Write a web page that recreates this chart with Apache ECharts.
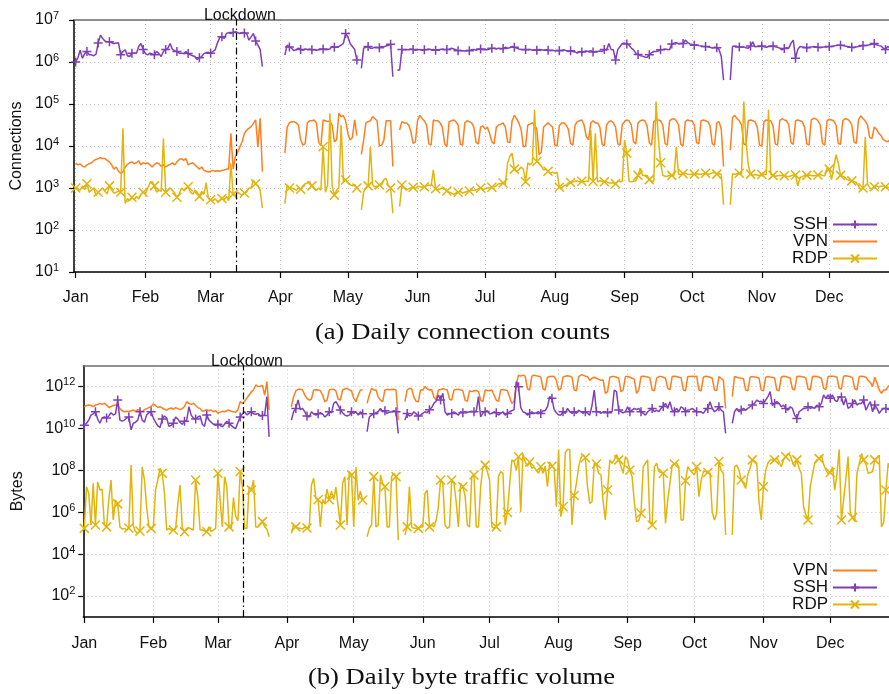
<!DOCTYPE html>
<html>
<head>
<meta charset="utf-8">
<script src="https://cdn.jsdelivr.net/npm/echarts@6/dist/echarts.min.js"></script>
<style>
  html, body { margin: 0; padding: 0; background: #fff; }
  #chart { width: 889px; height: 694px; }
</style>
</head>
<body>
<div id="chart"></div>
<script>
// Calendar of 2020 (leap year): day index 0 = 1 Jan.
const monthNames = ['Jan', 'Feb', 'Mar', 'Apr', 'May', 'Jun', 'Jul', 'Aug', 'Sep', 'Oct', 'Nov', 'Dec'];
const monthStarts = [0, 31, 60, 91, 121, 152, 182, 213, 244, 274, 305, 335];
const lockdownDay = 71.25;

// Tick positions (log10) of the two vertical axes.
const connTicks = [1, 2, 3, 4, 5, 6, 7];
const byteTicks = [2, 4, 6, 8, 10, 12];

// ---- (a) daily connection counts, log10 values, one inner array per month ----
const sshConnLog = [
  [6.0,6.1,6.28,6.09,6.2,6.25,6.17,6.17,6.15,6.18,6.45,6.64,6.56,6.5,6.48,6.48,6.46,6.44,6.45,6.46,6.17,6.25,6.29,6.15,6.13,6.21,6.21,6.21,6.37,6.44,6.3],
  [6.2,6.17,6.21,6.19,6.17,6.25,6.2,6.13,6.25,6.3,6.33,6.44,6.3,6.27,6.25,6.21,6.21,6.2,6.25,6.2,6.17,6.15,6.13,6.06,6.1,6.13,6.2,6.22,6.23],
  [6.21,6.25,6.29,6.45,6.58,6.6,6.56,6.68,6.7,6.68,6.7,6.72,6.7,6.68,6.7,6.69,6.68,6.52,6.6,6.68,6.5,6.4,6.3,5.89,null,null,null,null,null,null,null],
  [null,null,6.17,6.4,6.36,6.33,6.27,6.29,6.33,6.3,6.28,6.31,6.3,6.31,6.29,6.3,6.28,6.29,6.3,6.31,6.29,6.3,6.31,6.37,6.35,6.36,6.37,6.4,6.44,6.68],
  [6.6,6.44,6.37,6.3,6.05,null,5.85,6.33,6.35,6.37,6.33,6.33,6.35,6.35,6.34,6.37,6.36,6.38,6.4,6.42,5.65,null,5.81,5.81,6.3,6.29,6.3,6.29,6.31,6.3,6.28],
  [6.29,6.3,6.28,6.29,6.3,6.31,6.29,6.3,6.28,6.29,6.3,6.31,6.29,6.3,6.3,6.33,6.31,6.29,6.27,6.28,6.27,6.26,6.28,6.27,6.29,6.3,6.28,6.3,6.31,6.29],
  [6.3,6.29,6.31,6.33,6.32,6.31,6.33,6.31,6.32,6.35,6.33,6.34,6.37,6.35,6.33,6.31,6.3,6.29,6.3,6.29,6.3,6.28,6.29,6.28,6.3,6.29,6.28,6.29,6.28,6.27,6.28],
  [6.27,6.28,6.27,6.28,6.29,6.27,6.25,6.27,6.25,6.24,6.21,6.25,6.24,6.25,6.26,6.25,6.27,6.24,6.25,6.25,6.26,6.25,6.3,6.28,6.44,6.3,6.29,6.05,6.3,6.37,6.44],
  [6.45,6.43,6.4,6.33,6.29,6.21,6.18,6.15,6.14,6.12,6.11,6.17,6.22,6.25,6.25,6.26,6.29,6.3,6.31,6.3,6.29,6.43,6.45,6.46,6.43,6.44,6.44,6.52,6.47,6.43],
  [6.42,6.4,6.41,6.39,6.38,6.37,6.37,6.36,6.35,6.33,6.35,6.34,6.3,6.13,5.57,null,null,5.57,6.37,6.38,6.37,6.36,6.35,6.36,6.34,6.33,6.38,6.48,6.36,6.37,6.37],
  [6.38,6.36,6.35,6.37,6.37,6.38,6.36,6.35,6.33,6.29,6.32,6.34,6.33,6.45,6.52,6.09,6.3,6.37,6.36,6.35,6.34,6.35,6.36,6.37,6.36,6.35,6.34,6.35,6.36,6.36],
  [6.37,6.37,6.38,6.39,6.4,6.4,6.39,6.38,6.37,6.36,6.35,6.34,6.36,6.37,6.38,6.39,6.39,6.4,6.41,6.42,6.44,6.41,6.39,6.38,6.33,6.3,6.37,6.33]
];
const vpnConnLog = [
  [3.59,3.55,3.57,3.52,3.5,3.55,3.58,3.6,3.65,3.68,3.7,3.72,3.7,3.7,3.66,3.62,3.55,3.45,3.5,3.4,3.35,3.38,3.5,3.56,3.6,3.62,3.58,3.6,3.65,3.55,3.6],
  [3.58,3.6,3.55,3.5,3.56,3.6,3.58,3.52,3.55,3.5,3.54,3.56,3.6,3.55,3.62,3.68,3.7,3.66,3.7,3.55,3.58,3.6,3.55,3.5,3.45,3.5,3.42,3.4,3.38],
  [3.4,3.42,3.4,3.41,3.4,3.42,3.43,3.45,3.45,4.3,3.45,3.75,3.85,3.98,4.1,4.3,4.38,4.42,4.46,4.54,4.62,3.98,4.66,3.39,null,null,null,null,null,null,null],
  [null,null,3.83,4.45,4.55,4.58,4.58,4.55,4.5,4.15,4.02,4.05,4.55,4.6,4.6,4.62,4.55,4.1,4.0,4.62,4.6,4.58,4.6,4.5,4.1,4.15,4.78,4.7,4.72,4.6],
  [4.3,4.14,4.2,4.62,4.25,null,3.8,4.14,4.55,4.58,4.6,4.7,4.65,4.6,4.0,4.02,4.14,4.6,4.6,4.6,3.51,null,null,4.38,4.58,4.55,4.55,4.5,4.35,4.06,4.1],
  [4.62,4.73,4.65,4.6,4.5,4.05,4.02,4.62,4.6,4.6,4.55,4.45,4.06,3.98,4.58,4.6,4.62,4.58,4.5,4.04,4.02,4.55,4.6,4.58,4.55,4.45,4.08,4.05,4.45,4.48],
  [4.4,4.45,4.3,4.1,4.05,4.45,4.5,4.52,4.55,4.45,4.1,4.08,4.6,4.73,4.65,4.55,4.4,3.98,4.0,4.5,4.52,4.55,4.5,4.4,3.8,3.85,4.45,4.5,4.55,4.5,4.45],
  [4.02,4.0,4.48,4.55,4.55,4.5,4.4,4.06,4.02,4.5,4.58,4.6,4.62,4.5,4.22,4.15,4.55,4.6,4.55,4.55,4.45,4.05,4.0,4.5,4.58,4.6,4.55,4.45,4.05,4.02,4.52],
  [4.58,4.62,4.6,4.5,4.1,4.05,4.55,4.6,4.62,4.6,4.48,4.08,4.02,4.58,4.62,4.62,4.6,4.5,4.06,4.02,4.6,4.64,4.65,4.6,4.5,4.04,4.0,4.58,4.62,4.6],
  [4.6,4.5,4.08,4.05,4.6,4.62,4.6,4.58,4.48,4.05,4.02,4.55,4.58,4.4,3.51,null,null,3.9,4.68,4.73,4.65,4.6,4.5,4.05,4.02,4.6,4.62,4.6,4.58,4.45,4.02],
  [4.0,4.58,4.62,4.6,4.6,4.48,4.05,4.02,4.6,4.65,4.62,4.6,4.5,4.08,4.04,4.6,4.62,4.6,4.58,4.45,4.05,4.02,4.62,4.66,4.65,4.6,4.5,4.06,4.02,4.6],
  [4.64,4.62,4.6,4.5,4.06,4.04,4.6,4.65,4.64,4.6,4.5,4.1,4.06,4.62,4.72,4.65,4.6,4.5,4.2,4.18,4.45,4.4,4.3,4.25,4.15,4.12,4.1,4.15]
];
const rdpConnLog = [
  [3.0,2.98,2.95,3.05,2.96,3.1,2.9,2.95,3.0,2.82,2.9,2.95,3.0,2.92,2.86,3.05,2.95,2.88,2.9,2.92,2.9,4.42,2.63,2.75,2.7,2.78,2.72,2.8,2.74,2.85,2.9],
  [2.86,3.0,3.12,3.15,3.05,2.9,2.95,2.92,4.18,2.9,2.95,3.0,2.95,2.88,2.78,2.85,3.0,2.95,3.0,3.03,2.9,2.85,2.95,2.9,2.8,2.92,2.85,3.12,2.75],
  [2.72,2.7,2.74,2.68,2.7,2.75,2.72,2.8,2.7,3.59,2.85,2.8,2.9,2.86,2.83,2.88,2.9,3.0,3.0,3.19,3.1,3.05,2.95,2.52,null,null,null,null,null,null,null],
  [null,null,2.63,3.07,3.0,3.0,2.98,2.95,3.0,2.97,3.05,3.1,3.12,3.15,3.05,2.98,2.95,3.0,2.95,3.98,2.9,3.07,4.78,3.05,2.83,2.95,3.0,4.5,3.15,3.19],
  [3.12,3.08,3.05,3.08,3.0,null,2.48,2.9,3.0,3.05,3.98,3.07,3.02,3.04,3.07,3.07,3.2,3.23,3.05,3.0,2.4,null,null,2.56,3.07,3.0,2.95,2.98,3.0,3.02,2.98],
  [3.04,3.03,3.02,3.03,3.05,3.07,3.05,3.43,2.98,2.95,2.98,3.0,2.97,2.93,2.9,2.88,2.85,2.88,2.9,2.92,2.88,2.9,2.92,2.93,2.95,2.94,2.96,2.98,3.0,2.97],
  [2.98,3.0,3.0,3.02,3.03,3.05,3.1,3.1,3.12,3.08,3.59,3.75,3.83,3.45,3.4,3.43,3.5,3.45,3.15,3.6,3.55,3.6,4.86,3.63,3.6,3.52,3.43,3.45,3.4,3.35,3.38],
  [3.35,3.38,3.02,3.0,3.05,3.07,3.12,3.13,3.15,3.16,3.17,3.15,3.16,3.15,3.16,3.16,4.38,3.16,4.3,3.15,3.17,3.16,3.15,3.15,3.12,3.12,3.12,3.1,3.17,3.15,3.16],
  [4.14,3.83,3.16,3.15,3.16,3.17,3.3,3.47,3.3,3.3,3.3,3.2,3.16,3.16,5.06,4.2,3.6,3.3,3.28,3.28,3.3,3.3,3.3,3.98,3.32,3.33,3.34,3.35,3.33,3.32],
  [3.33,3.33,3.34,3.33,3.33,3.34,3.35,3.33,3.34,3.36,3.37,3.33,3.34,3.32,2.6,null,null,2.6,3.34,3.33,3.34,3.35,3.33,5.06,4.1,3.55,3.33,3.3,3.32,3.31,3.3],
  [3.32,3.33,3.32,4.86,3.32,3.3,3.28,3.29,3.3,3.3,3.29,3.28,3.27,3.29,3.31,3.31,3.05,3.25,3.27,3.3,3.3,3.31,3.3,3.29,3.3,3.31,3.32,3.3,3.29,3.47],
  [3.45,3.2,3.5,3.79,3.6,3.3,3.28,3.25,3.2,3.18,3.17,3.15,3.13,3.05,2.95,3.0,4.22,3.1,3.0,2.98,3.03,3.05,3.02,3.04,3.05,3.03,3.02,3.0]
];

// ---- (b) daily byte volume, log10 values, one inner array per month ----
const vpnBytesLog = [
  [11.04,11.1,11.12,11.1,11.05,11.12,11.15,11.2,11.15,11.2,11.12,11.0,11.05,11.1,11.12,11.15,10.95,10.85,10.8,10.82,10.8,10.85,10.88,10.82,10.9,10.85,10.8,10.9,10.95,11.0,11.05],
  [11.17,11.1,11.0,11.05,10.98,10.92,10.88,10.95,10.98,10.92,11.0,10.95,10.9,10.95,11.05,11.28,11.2,11.15,11.2,11.1,11.0,10.95,10.82,10.85,10.9,10.85,10.88,10.8,10.85],
  [10.73,10.78,10.82,10.8,10.85,10.88,10.82,10.8,10.78,10.9,11.28,11.2,11.3,11.45,11.6,11.75,11.84,12.08,12.0,12.02,12.05,11.6,12.24,10.88,null,null,null,null,null,null,null],
  [null,null,11.04,11.52,11.8,11.87,11.87,11.85,11.6,11.44,11.36,11.4,11.84,11.85,11.84,11.8,11.6,11.28,11.35,11.84,11.87,11.87,11.8,11.4,11.36,11.84,11.9,11.92,11.84,11.8],
  [11.44,11.28,11.6,11.84,11.84,null,11.2,11.6,11.92,11.84,11.84,11.5,11.36,11.28,11.84,11.87,11.85,11.86,11.87,11.84,10.4,null,null,11.28,11.84,11.92,11.9,11.5,11.3,11.28,11.84],
  [11.84,12.0,11.9,11.84,11.85,11.5,11.36,11.84,11.86,11.9,11.87,11.84,11.4,11.36,11.84,11.86,11.87,11.85,11.8,11.36,11.3,11.8,11.76,11.8,11.82,11.76,11.36,11.28,11.84,11.82],
  [11.8,11.84,11.6,11.36,11.3,11.84,11.86,11.84,11.8,11.5,11.2,11.3,12.1,12.55,12.5,12.55,12.5,11.9,11.84,12.5,12.55,12.52,12.5,12.45,11.9,11.84,12.45,12.48,12.5,12.48,12.3],
  [11.84,11.9,12.45,12.5,12.52,12.5,12.45,11.84,11.8,12.48,12.55,12.55,12.5,12.48,12.3,12.4,12.45,12.4,12.35,12.3,12.32,11.68,11.76,12.45,12.48,12.48,12.45,12.4,11.76,11.84,12.48],
  [12.48,12.45,12.4,12.35,11.68,11.84,12.48,12.5,12.48,12.46,12.42,11.84,11.8,12.4,12.48,12.48,12.45,12.4,11.92,11.85,12.48,12.5,12.48,12.45,12.42,11.84,11.8,12.48,12.48,12.5],
  [12.48,12.5,11.84,11.8,12.45,12.5,12.48,12.45,12.4,11.84,11.82,12.48,12.4,12.3,10.96,null,null,11.52,12.48,12.45,12.42,12.4,12.38,11.84,11.8,12.45,12.48,12.46,12.45,12.4,11.84],
  [11.8,12.45,12.48,12.46,12.45,12.4,11.84,11.8,12.45,12.5,12.48,12.45,12.4,11.9,11.84,12.48,12.5,12.48,12.46,12.42,11.9,11.84,12.48,12.5,12.48,12.45,12.4,11.92,11.86,12.48],
  [12.5,12.5,12.48,12.45,11.92,11.88,12.5,12.52,12.5,12.48,12.42,11.9,11.85,12.48,12.5,12.48,12.45,12.3,12.2,12.0,12.45,12.16,11.84,11.68,11.84,11.84,12.0,12.1]
];
const sshBytesLog = [
  [10.16,10.25,10.4,10.64,10.7,10.8,10.45,10.25,10.5,10.55,10.5,10.6,10.75,10.64,10.7,11.36,10.4,10.35,10.4,10.5,10.55,9.93,10.25,10.3,10.4,10.8,10.4,10.3,10.65,10.75,10.8],
  [10.5,10.3,10.12,10.05,10.45,10.6,10.5,10.1,10.15,10.25,10.55,10.45,10.3,10.2,10.35,10.4,11.04,10.64,10.5,10.45,10.55,10.6,10.2,10.1,10.64,10.4,10.3,10.2,10.15],
  [10.2,10.15,10.08,10.2,10.35,10.25,10.15,10.05,10.0,10.3,10.55,10.7,10.8,10.65,10.72,10.8,10.7,10.68,10.72,10.6,10.62,10.65,11.52,9.6,null,null,null,null,null,null,null],
  [null,null,10.4,10.8,10.96,11.36,10.9,10.96,10.8,10.6,10.55,10.8,10.7,10.64,10.7,10.75,10.7,10.55,10.64,10.8,10.75,11.2,11.28,11.1,10.88,10.75,10.64,10.6,10.64,10.8],
  [10.72,10.8,10.64,10.8,10.7,null,9.85,10.55,10.64,10.7,10.75,10.8,10.96,10.8,10.85,10.72,10.78,10.8,10.85,10.8,9.77,null,null,10.4,10.72,10.6,10.64,10.8,10.7,10.6,10.64],
  [10.72,10.8,10.75,10.9,11.0,11.2,11.3,11.6,11.36,11.68,10.8,10.64,10.7,10.72,10.8,10.72,10.64,10.8,10.75,10.8,10.78,10.8,10.82,10.8,10.82,11.52,10.55,10.75,10.8,10.85],
  [10.7,10.72,10.8,10.75,10.64,10.72,10.8,10.64,10.72,10.8,10.85,10.9,12.24,12.0,11.0,10.8,10.75,10.64,10.72,10.8,10.72,10.75,10.8,10.72,10.85,10.85,11.04,11.52,11.44,10.9,10.75],
  [10.64,10.64,10.8,10.72,10.96,10.8,10.72,10.8,10.72,10.88,10.8,10.72,10.8,10.72,10.64,11.1,11.84,10.8,10.8,10.72,10.8,10.8,10.75,10.8,10.8,11.84,11.76,10.88,10.8,10.75,10.8],
  [11.04,10.8,10.88,10.96,10.9,10.96,10.8,10.72,10.64,10.8,10.88,10.96,10.8,10.88,10.8,10.96,11.05,11.2,10.96,11.28,10.88,10.8,10.96,10.8,11.04,10.96,10.8,10.88,10.9,10.96],
  [10.88,10.8,10.8,10.8,10.72,10.88,10.96,11.28,10.96,10.8,10.88,11.04,10.88,10.8,9.77,null,null,10.24,10.8,10.96,10.8,10.88,10.96,10.88,10.96,11.04,11.12,11.2,11.36,11.28,11.3],
  [11.2,11.36,11.52,11.76,11.1,11.2,11.28,11.2,11.04,11.12,10.96,10.88,11.04,10.96,10.64,10.48,10.8,10.88,10.96,10.96,11.04,10.96,11.0,10.96,11.12,11.04,11.2,11.6,11.44,11.6],
  [11.44,11.6,11.36,11.28,11.52,11.5,11.12,11.44,10.96,11.04,11.2,11.36,11.12,11.2,11.2,11.36,10.88,11.1,11.28,10.8,11.12,10.96,10.72,10.88,10.96,10.96,10.9,10.96]
];
const rdpBytesLog = [
  [5.23,7.22,6.9,5.39,7.38,5.39,7.45,7.06,7.1,5.39,5.3,6.6,7.54,5.63,6.58,6.4,5.3,5.2,5.23,5.15,5.25,8.25,5.35,5.07,5.0,5.1,8.17,7.54,6.26,5.3,5.23],
  [5.3,7.06,7.54,8.1,7.86,6.9,5.15,5.23,5.15,5.15,5.2,6.4,7.3,5.25,5.07,5.23,5.25,5.2,5.15,7.54,6.7,5.15,5.15,5.1,5.07,5.3,5.07,5.15,5.23],
  [7.86,6.58,5.3,7.7,7.22,5.3,5.23,6.7,5.79,5.6,7.95,7.22,5.23,5.23,7.22,7.06,7.54,5.3,5.3,5.4,5.55,5.3,5.2,4.83,null,null,null,null,null,null,null],
  [null,null,4.99,5.39,5.3,5.25,5.23,5.2,5.3,5.25,5.25,7.3,7.62,6.65,6.6,5.3,6.6,6.4,7.1,6.6,7.0,6.6,7.2,6.26,5.39,7.38,7.7,5.39,7.94,7.78],
  [5.3,8.17,6.58,7.0,6.58,null,4.83,5.23,5.39,7.7,5.3,5.39,7.78,7.38,7.22,5.3,5.3,7.7,7.86,7.7,4.67,null,null,4.91,5.3,7.22,5.3,5.23,5.23,5.23,5.3],
  [5.3,6.9,7.06,5.3,5.39,5.3,5.6,6.26,7.54,7.38,5.39,5.23,5.3,7.54,7.38,6.5,5.3,7.38,7.22,6.8,5.39,5.3,7.7,7.78,5.3,5.3,7.22,8.17,8.25,7.94],
  [7.54,5.3,5.23,5.3,7.7,7.94,7.86,5.39,6.0,7.3,8.5,8.42,8.0,8.65,6.0,8.8,8.4,8.2,8.4,8.1,8.17,8.0,7.86,8.17,7.86,8.2,7.22,8.4,8.2,8.1,6.26],
  [9.0,5.79,6.26,8.84,9.0,9.0,5.39,6.8,7.38,8.17,8.6,8.75,8.6,7.2,6.42,6.5,8.34,8.3,7.86,7.8,6.5,5.63,7.06,8.5,8.34,8.5,8.75,8.5,8.2,7.86,8.66],
  [8.5,8.02,7.7,6.5,5.55,5.6,5.95,8.17,8.34,8.5,5.55,5.39,8.17,8.34,7.94,7.9,7.86,5.47,6.58,7.38,8.25,8.3,8.34,8.17,5.63,5.63,7.5,8.17,8.02,7.9],
  [7.78,8.17,6.74,7.5,7.94,7.94,7.9,7.86,6.0,5.63,5.95,8.42,8.0,7.86,4.91,null,null,4.91,8.17,8.25,8.0,7.54,7.38,7.14,7.8,8.1,8.5,8.45,8.34,6.5,5.63],
  [7.22,8.0,8.34,8.5,8.5,8.5,8.58,8.4,8.17,8.5,8.65,8.8,8.72,8.4,8.17,8.5,8.1,7.86,6.26,5.9,5.63,7.22,7.8,8.34,8.5,8.56,8.72,8.3,8.02,7.86],
  [7.9,8.17,7.06,7.8,9.0,5.63,6.58,7.6,8.66,5.95,5.75,5.55,7.86,8.3,8.8,8.5,8.3,7.86,7.9,7.94,8.5,8.6,8.72,5.3,5.5,7.06,8.34,8.0]
];

const COLORS = { SSH: '#7e3fb8', VPN: '#ff7f1f', RDP: '#e3b40c' };
const FONT = '"Liberation Sans", Arial, Helvetica, sans-serif';
const PLUS = 'path://M5,0L5,10M0,5L10,5';
const CROSS = 'path://M0,0L10,10M0,10L10,0';

// Turn month-chunked log10 values into [day, value] pairs; missing days break the line.
function toPoints(months) {
  const pts = [];
  months.forEach((vals, m) => {
    vals.forEach((v, i) => pts.push([monthStarts[m] + i, v === null ? '-' : v]));
  });
  return pts;
}

// A marker on every fifth sample, as in the plot's point interval.
function everyFifth(val, params) {
  const y = val[1];
  return (params.dataIndex % 5 === 0 && typeof y === 'number' && !isNaN(y)) ? 9 : 0;
}

function lineSeries(name, months, xi, yi, marker) {
  const c = COLORS[name];
  const s = {
    name, type: 'line', xAxisIndex: xi, yAxisIndex: yi,
    data: toPoints(months),
    connectNulls: false,
    lineStyle: { color: c, width: 1.5 },
    itemStyle: { color: c, borderColor: c, borderWidth: 1.5 },
    emphasis: { disabled: true },
    animation: false
  };
  if (marker) {
    s.symbol = marker;
    s.symbolSize = everyFifth;
    s.showSymbol = true;
    s.showAllSymbol = true;
  } else {
    s.symbol = 'none';
    s.showSymbol = false;
  }
  return s;
}

function lockdownMark() {
  return {
    silent: true,
    symbol: ['none', 'none'],
    animation: false,
    data: [{ xAxis: lockdownDay }],
    lineStyle: { color: '#000', width: 1.2, type: [7, 3, 1.5, 3] },
    label: {
      show: true, position: 'end', formatter: 'Lockdown', distance: -4,
      fontFamily: FONT, fontSize: 16, color: '#111', padding: [0, 0, 0, 8]
    }
  };
}

function dayAxis(gridIndex, min, labelMargin) {
  return {
    type: 'value', gridIndex, min, max: 366,
    axisLine: { show: true, onZero: false, lineStyle: { color: '#000', width: 1.5 } },
    axisTick: { show: true, customValues: monthStarts, length: 6, lineStyle: { color: '#000', width: 1.2 } },
    axisLabel: {
      customValues: monthStarts, margin: labelMargin,
      formatter: v => monthNames[monthStarts.indexOf(v)] || '',
      fontFamily: FONT, fontSize: 16, color: '#111'
    },
    splitLine: { show: true, lineStyle: { color: '#c4c4c4', width: 1, type: [1, 3] } }
  };
}

function frameTop(gridIndex, min) {
  return {
    type: 'value', gridIndex, min, max: 366, position: 'top',
    axisLine: { show: true, onZero: false, lineStyle: { color: '#6e6e6e', width: 1.5 } },
    axisTick: { show: false }, axisLabel: { show: false }, splitLine: { show: false }
  };
}

function powerAxis(gridIndex, min, max, ticks, name, nameGap, labelMargin) {
  return {
    type: 'value', gridIndex, min, max,
    name, nameLocation: 'middle', nameGap,
    nameTextStyle: { fontFamily: FONT, fontSize: 16, color: '#111' },
    axisLine: { show: true, onZero: false, lineStyle: { color: '#000', width: 1.5 } },
    axisTick: { show: true, customValues: ticks, length: 5, lineStyle: { color: '#000', width: 1.2 } },
    axisLabel: {
      customValues: ticks, margin: labelMargin,
      formatter: v => '{b|10}{s|' + v + '}',
      rich: {
        b: { fontFamily: FONT, fontSize: 16, color: '#111' },
        s: { fontFamily: FONT, fontSize: 11, color: '#111', padding: [0, 0, 9, 0] }
      }
    },
    splitLine: { show: true, lineStyle: { color: '#c4c4c4', width: 1, type: [1, 3] } }
  };
}

const legendBase = {
  orient: 'vertical', align: 'right', padding: 0, itemGap: 0,
  itemWidth: 44, itemHeight: 10, selectedMode: false,
  textStyle: { fontFamily: FONT, fontSize: 17, color: '#111' }
};

const sshTop = lineSeries('SSH', sshConnLog, 0, 0, PLUS);
sshTop.markLine = lockdownMark();
const vpnBottom = lineSeries('VPN', vpnBytesLog, 2, 1, null);
vpnBottom.markLine = lockdownMark();

const option = {
  animation: false,
  backgroundColor: '#fff',
  textStyle: { fontFamily: FONT },
  grid: [
    { left: 74, top: 20, width: 825, height: 252, containLabel: false, outerBoundsMode: 'none' },
    { left: 83.3, top: 365.7, width: 816, height: 251.2, containLabel: false, outerBoundsMode: 'none' }
  ],
  xAxis: [
    dayAxis(0, -0.75, 18),
    frameTop(0, -0.75),
    dayAxis(1, -0.45, 19),
    frameTop(1, -0.45)
  ],
  yAxis: [
    powerAxis(0, 1, 7, connTicks, 'Connections', 49, 15),
    powerAxis(1, 1, 13, byteTicks, 'Bytes', 58, 8)
  ],
  legend: [
    Object.assign({}, legendBase, {
      right: 11, top: 216,
      textStyle: Object.assign({}, legendBase.textStyle, { lineHeight: 16 }),
      data: ['SSH', { name: 'VPN', itemStyle: { opacity: 0 } }, 'RDP']
    }),
    Object.assign({}, legendBase, {
      right: 11, top: 562,
      textStyle: Object.assign({}, legendBase.textStyle, { lineHeight: 15.5 }),
      data: [{ name: 'VPN', itemStyle: { opacity: 0 } }, 'SSH', 'RDP']
    })
  ],
  graphic: [
    { type: 'text', x: 462.5, y: 333, scaleX: 1.11, silent: true,
      style: { text: '(a) Daily connection counts', font: '24px "Liberation Serif", "Times New Roman", serif',
               fill: '#111', textAlign: 'center', textVerticalAlign: 'middle' } },
    { type: 'text', x: 461.5, y: 678, scaleX: 1.11, silent: true,
      style: { text: '(b) Daily byte traffic volume', font: '24px "Liberation Serif", "Times New Roman", serif',
               fill: '#111', textAlign: 'center', textVerticalAlign: 'middle' } }
  ],
  series: [
    sshTop,
    lineSeries('VPN', vpnConnLog, 0, 0, null),
    lineSeries('RDP', rdpConnLog, 0, 0, CROSS),
    vpnBottom,
    lineSeries('SSH', sshBytesLog, 2, 1, PLUS),
    lineSeries('RDP', rdpBytesLog, 2, 1, CROSS)
  ]
};

const chart = echarts.init(document.getElementById('chart'), null, { renderer: 'canvas' });
chart.setOption(option);
</script>
</body>
</html>
